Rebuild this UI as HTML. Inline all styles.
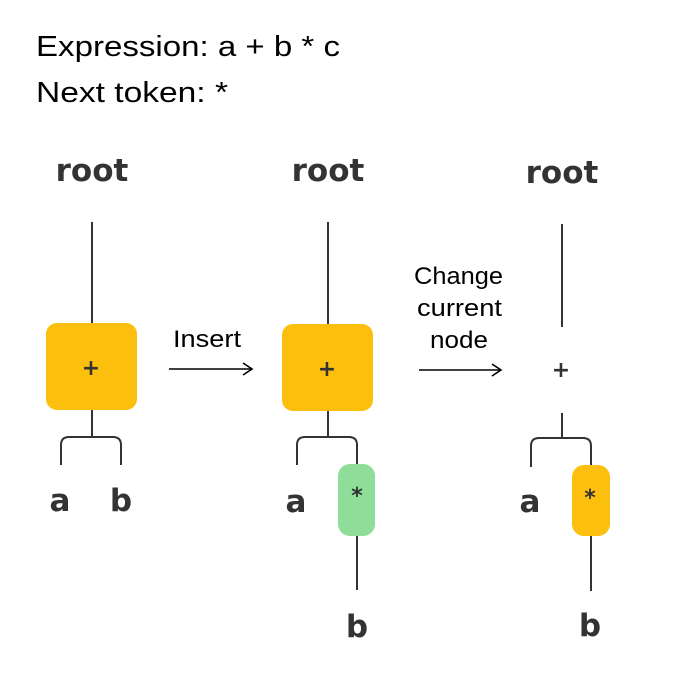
<!DOCTYPE html>
<html><head><meta charset="utf-8"><style>
html,body{margin:0;padding:0;background:#fff;}
svg{display:block;}
.t{font-family:"Liberation Sans",sans-serif;fill:#000;}
.b{font-family:"DejaVu Sans","Liberation Sans",sans-serif;font-weight:bold;fill:#333;}
</style></head><body>
<svg width="674" height="680" viewBox="0 0 674 680" xmlns="http://www.w3.org/2000/svg">
<text class="t" x="36" y="56" font-size="29" textLength="304" lengthAdjust="spacingAndGlyphs">Expression: a + b * c</text>
<text class="t" x="36" y="102" font-size="29" textLength="192" lengthAdjust="spacingAndGlyphs">Next token: *</text>
<g stroke="#333" stroke-width="2" fill="none">
<line x1="92" y1="222" x2="92" y2="323"/>
<line x1="92" y1="410" x2="92" y2="437"/>
<path d="M61 465 V445 Q61 437 69 437 H113 Q121 437 121 445 V465"/>
<line x1="328" y1="222" x2="328" y2="324"/>
<line x1="328" y1="411" x2="328" y2="437"/>
<path d="M297 465 V445 Q297 437 305 437 H349 Q357 437 357 445 V465"/>
<line x1="357" y1="536" x2="357" y2="590"/>
<line x1="562" y1="224" x2="562" y2="327"/>
<line x1="562" y1="413" x2="562" y2="438"/>
<path d="M531 467 V446 Q531 438 539 438 H583 Q591 438 591 446 V467"/>
<line x1="591" y1="536" x2="591" y2="591"/>
</g>
<rect x="46" y="323" width="91" height="87" rx="11" fill="#FDBF0E"/>
<rect x="282" y="324" width="91" height="87" rx="11" fill="#FDBF0E"/>
<rect x="338" y="464" width="37" height="72" rx="12" fill="#8EDD98"/>
<rect x="572" y="465" width="38" height="71" rx="12" fill="#FDBF0E"/>
<g class="b" text-anchor="middle" font-size="31">
<text x="92" y="181">root</text>
<text x="328" y="181">root</text>
<text x="562" y="183">root</text>
<text x="60" y="511">a</text>
<text x="121" y="511">b</text>
<text x="296" y="512">a</text>
<text x="357" y="637">b</text>
<text x="530" y="512">a</text>
<text x="590" y="636">b</text>
</g>
<g class="b" text-anchor="middle" font-size="22" font-weight="normal">
<text x="91" y="375">+</text>
<text x="327" y="376">+</text>
<text x="561" y="377">+</text>
<text x="357" y="503">*</text>
<text x="590" y="505">*</text>
</g>
<g stroke="#000" stroke-width="1.6" fill="none">
<line x1="169" y1="369" x2="252" y2="369"/><path d="M243 363 L252 369 L243 375"/>
<line x1="419" y1="370" x2="501" y2="370"/><path d="M492 364 L501 370 L492 376"/>
</g>
<g class="t" font-size="24">
<text x="173" y="347" textLength="68" lengthAdjust="spacingAndGlyphs">Insert</text>
<text x="414" y="284" textLength="89" lengthAdjust="spacingAndGlyphs">Change</text>
<text x="417" y="316" textLength="85" lengthAdjust="spacingAndGlyphs">current</text>
<text x="430" y="348" textLength="58" lengthAdjust="spacingAndGlyphs">node</text>
</g>
</svg>
</body></html>
